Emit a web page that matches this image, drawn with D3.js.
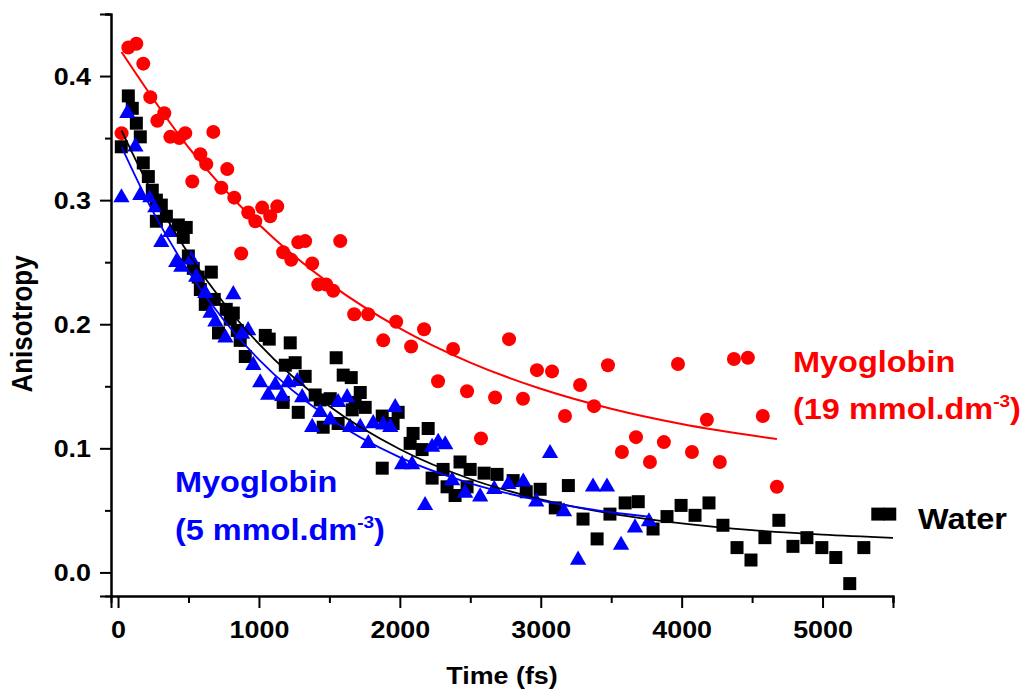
<!DOCTYPE html>
<html>
<head>
<meta charset="utf-8">
<script src="https://cdn.jsdelivr.net/npm/d3@7"></script>
<style>
  html, body { margin: 0; padding: 0; background: #fff; }
  svg { display: block; font-family: "Liberation Sans", Arial, sans-serif; font-weight: bold; }
</style>
</head>
<body>
<svg id="chart" width="1024" height="692"></svg>
<script>
// ---------- data ----------
const waterT = [23,73,101,130,158,179,215,243,272,272,307,343,428,463,484,499,534,569,584,619,662,683,713,768,796,818,846,867,903,1045,1073,1172,1187,1222,1257,1279,1328,1399,1435,1456,1506,1548,1562,1598,1655,1662,1683,1719,1754,1875,1875,1952,1988,2073,2094,2158,2201,2229,2307,2335,2392,2427,2477,2499,2598,2690,2804,2897,2996,3103,3196,3300,3400,3491,3599,3692,3797,3896,3996,4095,4194,4293,4393,4492,4591,4690,4790,4889,4995,5094,5193,5293,5392,5477];
const waterV = [0.343,0.384,0.374,0.362,0.351,0.330,0.319,0.308,0.300,0.283,0.296,0.287,0.280,0.270,0.278,0.255,0.245,0.238,0.228,0.216,0.242,0.220,0.193,0.212,0.204,0.209,0.195,0.187,0.174,0.191,0.188,0.137,0.167,0.185,0.169,0.129,0.158,0.143,0.139,0.117,0.140,0.173,0.120,0.159,0.157,0.131,0.137,0.145,0.133,0.126,0.084,0.120,0.129,0.104,0.112,0.099,0.116,0.076,0.083,0.069,0.062,0.089,0.069,0.083,0.080,0.079,0.074,0.065,0.067,0.052,0.070,0.043,0.027,0.047,0.056,0.057,0.035,0.045,0.054,0.046,0.056,0.038,0.020,0.010,0.028,0.042,0.021,0.028,0.020,0.012,-0.009,0.020,0.047,0.047];

const myo5T = [24,66,123,158,229,265,307,371,413,449,520,555,619,656,691,762,818,880,923,960,1009,1066,1116,1165,1208,1272,1307,1378,1435,1506,1562,1626,1647,1719,1776,1811,1882,1932,1967,2016,2087,2179,2229,2272,2322,2371,2463,2570,2670,2770,2876,2968,3066,3165,3265,3371,3470,3570,3669,3768];
const myo5V = [0.302,0.370,0.343,0.304,0.302,0.294,0.266,0.274,0.250,0.246,0.252,0.238,0.225,0.209,0.202,0.189,0.224,0.192,0.195,0.167,0.153,0.143,0.151,0.142,0.153,0.154,0.141,0.117,0.129,0.123,0.137,0.141,0.117,0.117,0.104,0.120,0.119,0.117,0.133,0.087,0.087,0.054,0.101,0.105,0.103,0.074,0.064,0.061,0.067,0.071,0.073,0.057,0.096,0.049,0.010,0.069,0.069,0.022,0.036,0.041];

const myo19T = [25,73,130,179,229,279,328,371,435,477,527,584,626,676,733,775,825,874,924,974,1023,1080,1130,1172,1229,1279,1328,1378,1421,1477,1527,1577,1676,1775,1882,1974,2080,2172,2271,2378,2477,2576,2676,2775,2874,2973,3080,3172,3279,3378,3477,3576,3676,3775,3874,3974,4073,4179,4271,4371,4470,4576,4676];
const myo19V = [0.354,0.423,0.426,0.410,0.383,0.364,0.370,0.351,0.350,0.354,0.315,0.337,0.329,0.355,0.310,0.325,0.302,0.257,0.290,0.283,0.294,0.287,0.295,0.258,0.252,0.266,0.267,0.249,0.232,0.232,0.227,0.267,0.208,0.208,0.187,0.202,0.182,0.196,0.154,0.180,0.146,0.108,0.141,0.188,0.140,0.163,0.162,0.126,0.151,0.134,0.167,0.097,0.109,0.089,0.105,0.168,0.097,0.123,0.089,0.172,0.173,0.126,0.069];

// fitted decay curves
const waterFitT = [25,250,500,750,1000,1500,2000,2500,3000,3500,4000,4500,5000,5500];
const waterFitV = [0.356,0.3045,0.2568,0.2171,0.1841,0.1339,0.0993,0.0753,0.0589,0.0474,0.0396,0.0341,0.0304,0.0278];
const myo5FitT = [25,250,500,750,1000,1500,2000,2500,3000,3500,3780];
const myo5FitV = [0.343,0.2903,0.2425,0.2034,0.1715,0.1242,0.0927,0.0718,0.0578,0.0485,0.0448];
const myo19FitT = [25,500,1000,1500,2000,2500,3000,3500,4000,4676];
const myo19FitV = [0.4194,0.3425,0.2803,0.2329,0.1967,0.1691,0.1480,0.1319,0.1196,0.1075];

const xMajorTicks = [0,1000,2000,3000,4000,5000];
const xMinorTicks = [500,1500,2500,3500,4500,5500];
const yMajorTicks = [0.0,0.1,0.2,0.3,0.4];
const yMinorTicks = [0.05,0.15,0.25,0.35,0.45];

const xTitle = "Time (fs)";
const yTitle = "Anisotropy";

// ---------- drawing ----------
const svg = d3.select("#chart");
const SX = 1.12; // horizontal stretch of the original image's type

const x = d3.scaleLinear().domain([-50, 5500]).range([111, 893]);
const y = d3.scaleLinear().domain([-0.019, 0.45]).range([596, 14]);

const zip = (a, b) => a.map((t, i) => [t, b[i]]);

// scatter markers
const gRed = svg.append("g");
gRed.selectAll("circle").data(zip(myo19T, myo19V)).join("circle")
  .attr("cx", d => x(d[0])).attr("cy", d => y(d[1])).attr("r", 7)
  .attr("fill", "#ff0000");

const gBlack = svg.append("g");
gBlack.selectAll("path").data(zip(waterT, waterV)).join("path")
  .attr("transform", d => `translate(${x(d[0])},${y(d[1])})`)
  .attr("d", d3.symbol(d3.symbolSquare, 169))
  .attr("fill", "#000");

const gBlue = svg.append("g");
gBlue.selectAll("path").data(zip(myo5T, myo5V)).join("path")
  .attr("transform", d => `translate(${x(d[0])},${y(d[1])})`)
  .attr("d", d3.symbol(d3.symbolTriangle, 115))
  .attr("fill", "#0000ff");

// fit lines
const line = d3.line().x(d => x(d[0])).y(d => y(d[1])).curve(d3.curveMonotoneX);
svg.append("path").datum(zip(myo19FitT, myo19FitV)).attr("d", line)
  .attr("fill", "none").attr("stroke", "#ff0000").attr("stroke-width", 2);
svg.append("path").datum(zip(waterFitT, waterFitV)).attr("d", line)
  .attr("fill", "none").attr("stroke", "#000").attr("stroke-width", 1.8);
svg.append("path").datum(zip(myo5FitT, myo5FitV)).attr("d", line)
  .attr("fill", "none").attr("stroke", "#0000ff").attr("stroke-width", 1.8);

// axes
const xAxis = svg.append("g").attr("transform", "translate(0,596)");
xAxis.call(d3.axisBottom(x).tickValues(xMinorTicks).tickSize(7).tickFormat(""));
xAxis.append("g").call(d3.axisBottom(x).tickValues(xMajorTicks).tickSize(12).tickFormat(d3.format("d")));
const yAxis = svg.append("g").attr("transform", "translate(111,0)");
yAxis.call(d3.axisLeft(y).tickValues(yMinorTicks).tickSize(6).tickFormat(""));
yAxis.append("g").call(d3.axisLeft(y).tickValues(yMajorTicks).tickSize(11).tickFormat(d3.format(".1f")));

svg.selectAll(".domain").attr("stroke", "#000").attr("stroke-width", 2);
svg.selectAll(".tick line").attr("stroke", "#000").attr("stroke-width", 2);
svg.selectAll("g").attr("font-family", null).attr("font-size", null);

xAxis.selectAll(".tick text")
  .attr("y", null).attr("dy", null)
  .attr("transform", `translate(0,42) scale(${SX},1)`)
  .attr("font-size", 24).attr("font-weight", "bold").attr("fill", "#000");
yAxis.selectAll(".tick text")
  .attr("x", null).attr("dy", null)
  .attr("transform", `translate(-20,8) scale(${SX},1)`)
  .attr("font-size", 24).attr("font-weight", "bold").attr("fill", "#000");

// axis titles
svg.append("text").attr("transform", `translate(502,684) scale(${SX},1)`)
  .attr("text-anchor", "middle").attr("font-size", 24).attr("fill", "#000").text(xTitle);
svg.append("text").attr("transform", `translate(32,324) rotate(-90) scale(1,${SX})`)
  .attr("text-anchor", "middle").attr("font-size", 26).attr("fill", "#000").text(yTitle);

// series labels
function label(px, py, color, main, sup, tail) {
  const t = svg.append("text").attr("transform", `translate(${px},${py}) scale(${SX},1)`)
    .attr("font-size", 29).attr("fill", color);
  t.append("tspan").text(main);
  if (sup) {
    t.append("tspan").attr("font-size", 17).attr("dy", -12).text(sup);
    t.append("tspan").attr("dy", 12).text(tail);
  }
}
label(793, 372, "#ff0000", "Myoglobin");
label(793, 419, "#ff0000", "(19 mmol.dm", "-3", ")");
label(175, 492, "#0000ff", "Myoglobin");
label(175, 540, "#0000ff", "(5 mmol.dm", "-3", ")");
label(918, 529, "#000", "Water");
</script>
</body>
</html>
